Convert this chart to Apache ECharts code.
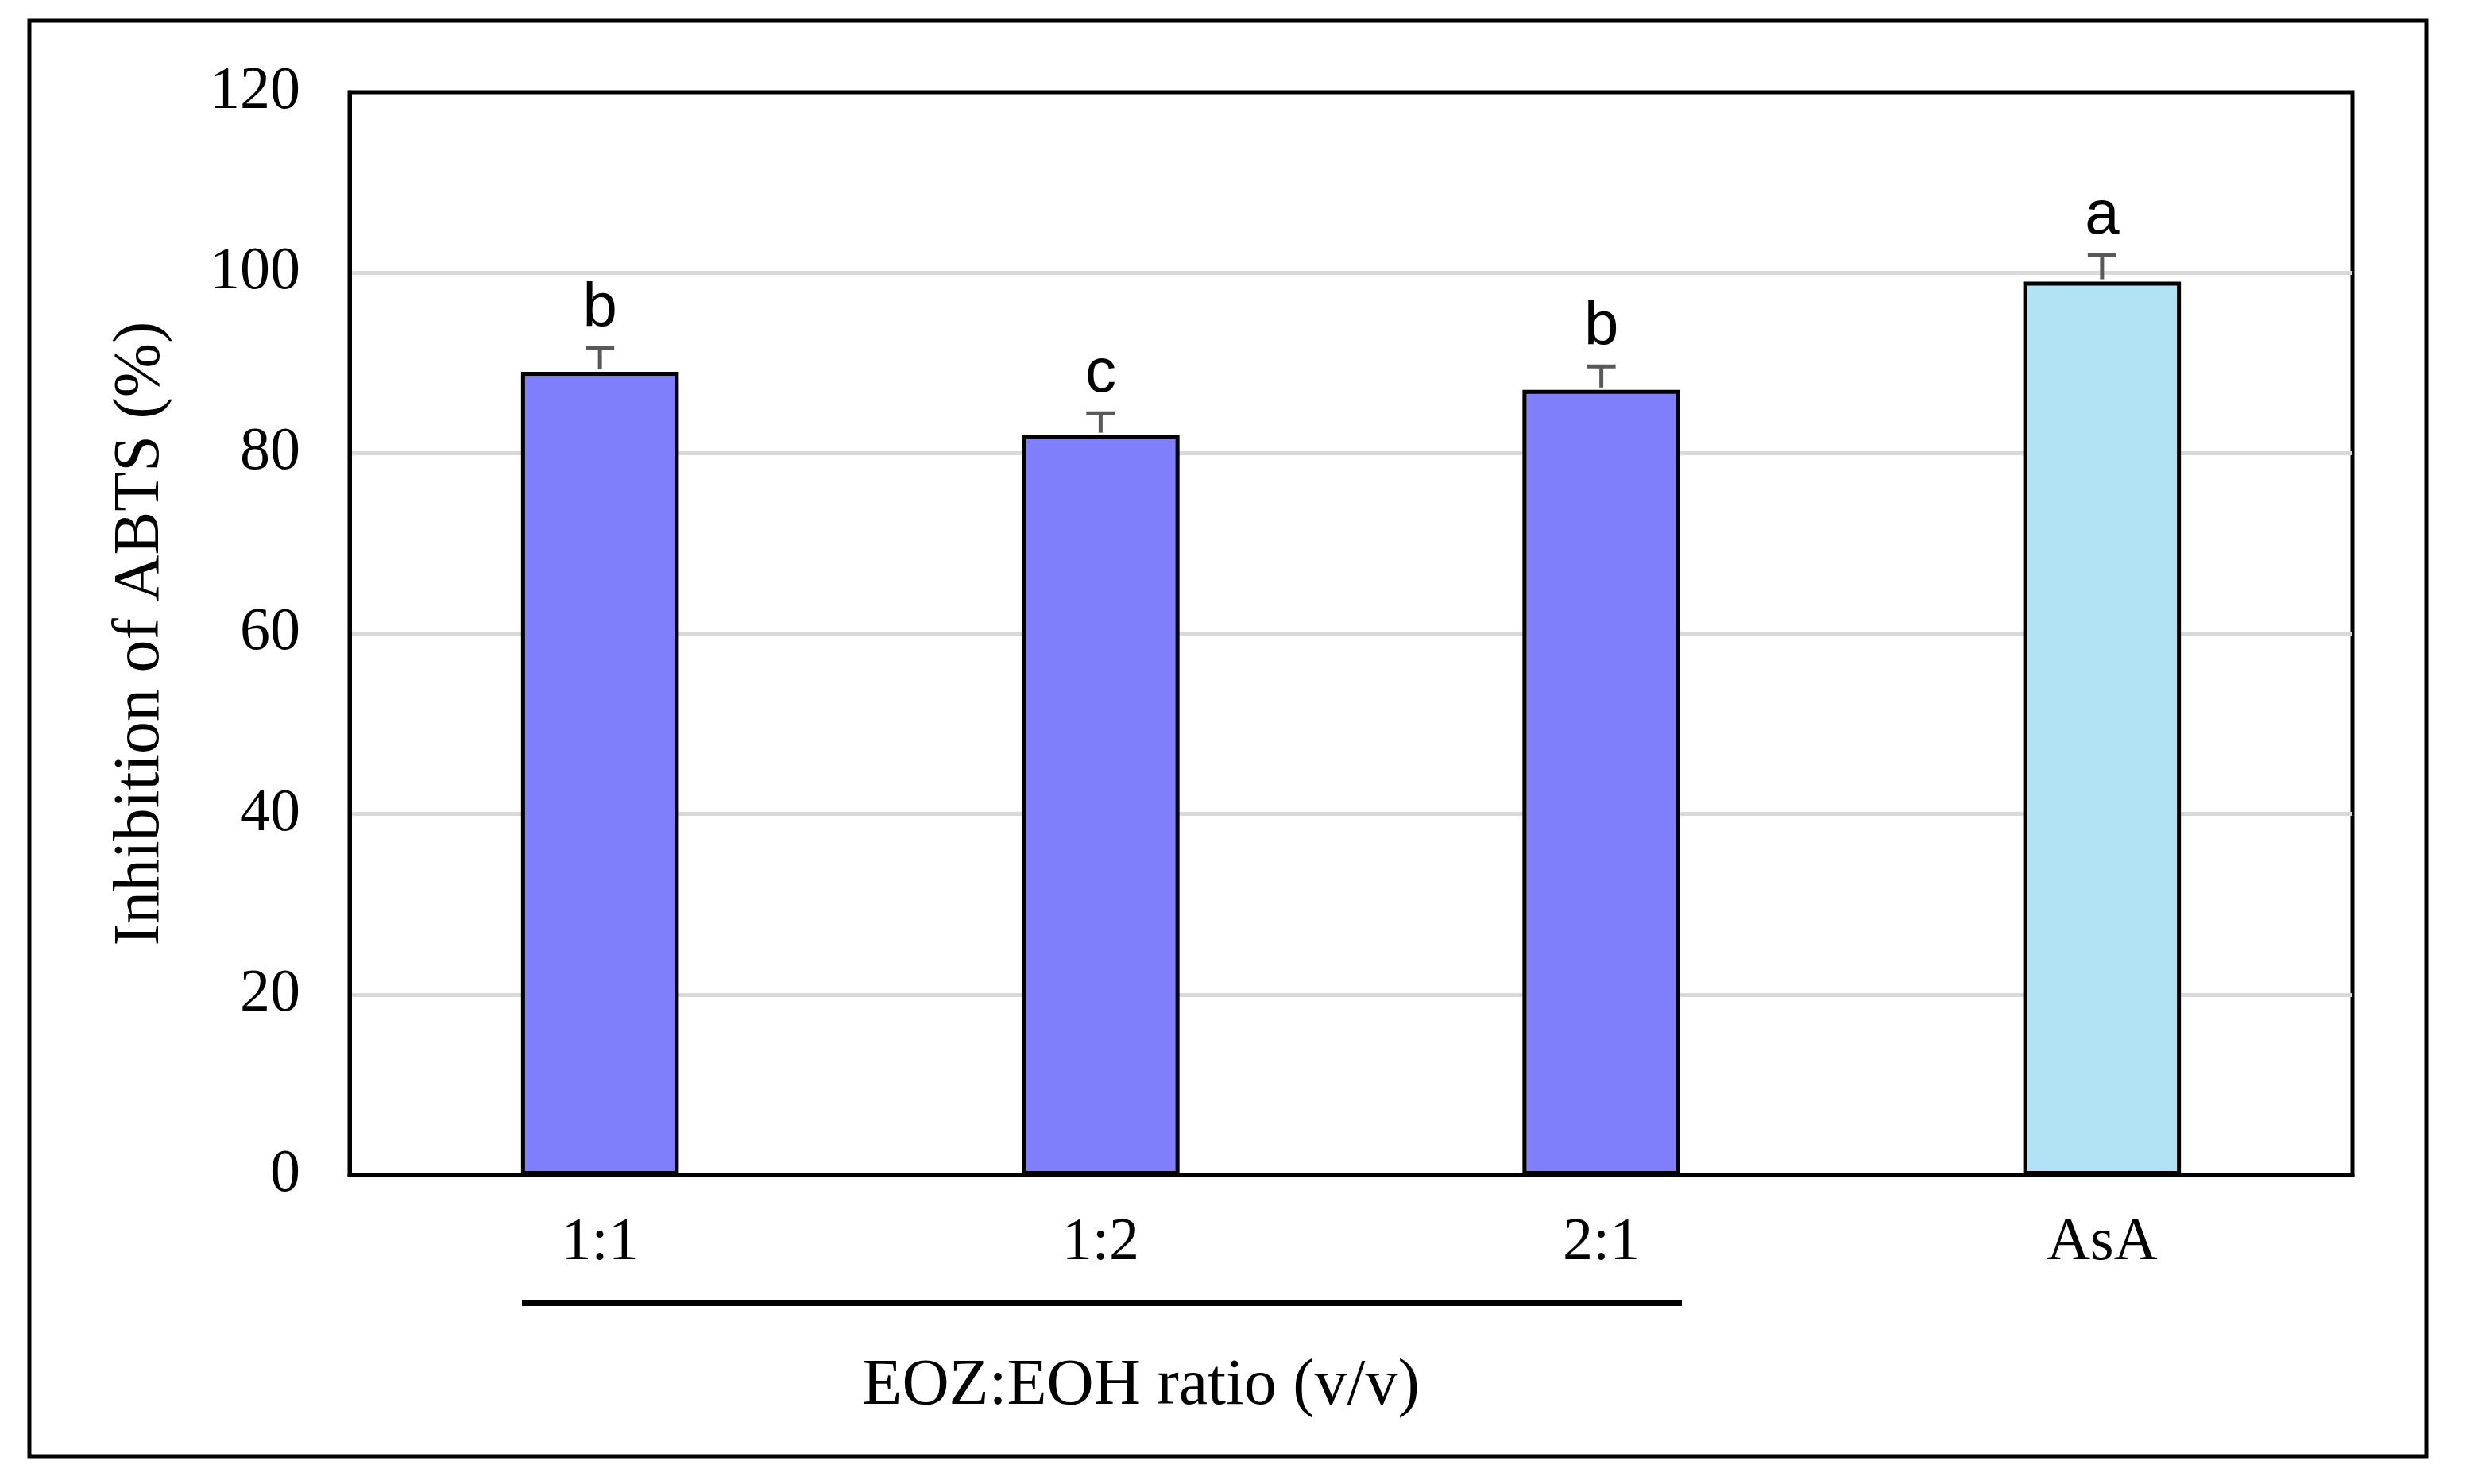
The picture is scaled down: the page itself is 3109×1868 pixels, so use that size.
<!DOCTYPE html>
<html>
<head>
<meta charset="utf-8">
<script src="https://cdn.jsdelivr.net/npm/echarts@6/dist/echarts.min.js"></script>
<style>
  html, body { margin: 0; padding: 0; background: #fff; }
  #abtsChart { width: 3109px; height: 1868px; }
</style>
</head>
<body>
<div id="abtsChart"></div>
<script>
// data
var categories = ["1:1", "1:2", "2:1", "AsA"];
var meanValues = [89.0, 82.0, 87.0, 99.0];
var errorValues = [2.6, 2.4, 2.6, 2.9];
var groupLetters = ["b", "c", "b", "a"];
var barColors = ["#7f7ffb", "#7f7ffb", "#7f7ffb", "#b1e3f5"];
var yTicks = [0, 20, 40, 60, 80, 100, 120];

var serifFont = "'Liberation Serif', 'Times New Roman', serif";
var sansFont = "'Liberation Sans', Arial, sans-serif";

var abtsChart = echarts.init(document.getElementById("abtsChart"));

var barData = meanValues.map(function (v, i) {
  return {
    value: v,
    itemStyle: { color: barColors[i] },
  };
});

var errData = meanValues.map(function (v, i) {
  return [i, v, errorValues[i], groupLetters[i]];
});

var abtsOption = {
  backgroundColor: "#ffffff",
  animation: false,
  grid: {
    left: 440,
    right: 148,
    top: 116,
    bottom: 389,
    show: true,
    borderColor: "#000",
    borderWidth: 5,
  },
  xAxis: {
    type: "category",
    data: categories,
    axisLine: { lineStyle: { color: "#000", width: 5 } },
    axisTick: { show: false },
    axisLabel: {
      color: "#000",
      fontFamily: serifFont,
      fontSize: 76,
      margin: 48,
    },
  },
  yAxis: {
    type: "value",
    min: yTicks[0],
    max: yTicks[yTicks.length - 1],
    interval: yTicks[1] - yTicks[0],
    name: "Inhibition of ABTS (%)",
    nameLocation: "middle",
    nameGap: 222,
    nameTextStyle: {
      color: "#000",
      fontFamily: serifFont,
      fontSize: 82,
    },
    axisLine: { show: true, lineStyle: { color: "#000", width: 5 } },
    axisTick: { show: false },
    axisLabel: {
      color: "#000",
      fontFamily: serifFont,
      fontSize: 76,
      margin: 62,
    },
    splitLine: {
      showMinLine: false,
      showMaxLine: false,
      lineStyle: { color: "#d9d9d9", width: 5 },
    },
  },
  series: [
    {
      type: "bar",
      data: barData,
      barWidth: "31.5%",
      itemStyle: { borderColor: "#000", borderWidth: 5 },
      z: 2,
    },
    {
      // upper error bar + letter
      type: "custom",
      data: errData,
      z: 3,
      renderItem: function (params, api) {
        var x = api.value(0);
        var top = api.coord([x, api.value(1) + api.value(2)]);
        var base = api.coord([x, api.value(1)]);
        var cap = 18;
        var st = { stroke: "#595959", lineWidth: 5 };
        return {
          type: "group",
          children: [
            { type: "line", shape: { x1: top[0], y1: base[1] - 3, x2: top[0], y2: top[1] }, style: st },
            { type: "line", shape: { x1: top[0] - cap, y1: top[1], x2: top[0] + cap, y2: top[1] }, style: st },
            {
              type: "text",
              style: {
                text: api.value(3),
                x: top[0],
                y: top[1] - 10,
                align: "center",
                verticalAlign: "bottom",
                fill: "#000",
                font: "78px " + sansFont,
              },
            },
          ],
        };
      },
    },
  ],
  graphic: [
    {
      // outer frame
      type: "rect",
      shape: { x: 37, y: 26, width: 3017, height: 1807 },
      style: { fill: null, stroke: "#000", lineWidth: 5 },
      silent: true,
    },
    {
      // line under the ratio groups
      type: "line",
      shape: { x1: 657, y1: 1640, x2: 2117, y2: 1640 },
      style: { stroke: "#000", lineWidth: 8 },
    },
    {
      type: "text",
      x: 1436,
      y: 1745,
      style: {
        text: "EOZ:EOH ratio (v/v)",
        align: "center",
        verticalAlign: "middle",
        fill: "#000",
        font: "82px " + serifFont,
      },
    },
  ],
};
abtsChart.setOption(abtsOption);
</script>
</body>
</html>
